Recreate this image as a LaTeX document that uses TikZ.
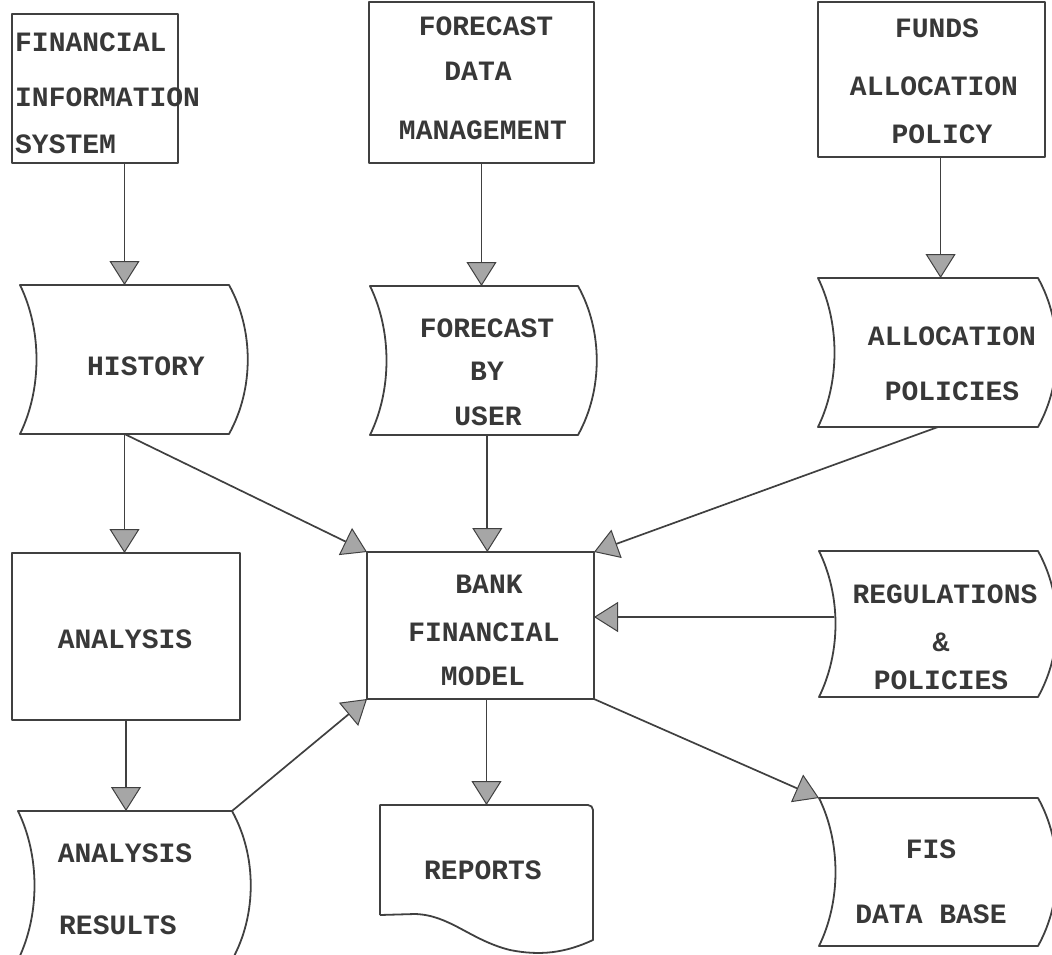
\documentclass[tikz,border=0pt]{standalone}
\usepackage{fontspec}
\newfontfamily\typewriter{Liberation Mono}
\usetikzlibrary{arrows.meta,calc}
\begin{document}
\begin{tikzpicture}[x=1pt,y=-1pt,
  outline/.style={draw=black!75, line width=1.8pt, line join=round},
  frame/.style={outline, inner sep=0pt, outer sep=0pt},
  slot/.style={inner sep=0pt, outer sep=0pt},
  caption/.style={font=\typewriter\bfseries\fontsize{28}{28}\selectfont,
    text=black!78, inner sep=0pt},
  flow/.style={draw=black!75, line width=1.7pt,
    -{Triangle[width=30pt,length=24pt,fill=black!35,line width=1pt]}}
]
\useasboundingbox (0,0) rectangle (1052,955);
\clip (0,0) rectangle (1052,955);

% ---- process boxes ----
\node[frame, minimum width=166pt, minimum height=149pt] (fis) at (95,88.5) {};
\node[frame, minimum width=225pt, minimum height=161pt] (fdm) at (481.5,82.5) {};
\node[frame, minimum width=227pt, minimum height=155pt] (fap) at (931.5,79.5) {};
\node[frame, minimum width=228pt, minimum height=167pt] (ana) at (126,636.5) {};
\node[frame, minimum width=227pt, minimum height=147pt] (bfm) at (480.5,625.5) {};

% ---- stored data (curved sides) ----
\node[slot, minimum width=209pt, minimum height=149pt] (hist) at (124.5,359.5) {};
\node[slot, minimum width=208pt, minimum height=149pt] (fbu) at (474,360.5) {};
\node[slot, minimum width=220pt, minimum height=149pt] (alp) at (928,352.5) {};
\node[slot, minimum width=219pt, minimum height=146pt] (reg) at (928.5,624) {};
\node[slot, minimum width=214pt, minimum height=149pt] (ares) at (125,885.5) {};
\node[slot, minimum width=219pt, minimum height=148pt] (fdb) at (928.5,872) {};
\foreach \n in {hist,fbu,alp,reg,ares,fdb}
  \draw[outline] (\n.north west) -- (\n.north east)
    .. controls +(25,45) and +(25,-45) .. (\n.south east)
    -- (\n.south west)
    .. controls +(22,-45) and +(22,45) .. (\n.north west) -- cycle;

% ---- document ----
\node[slot, minimum width=213pt, minimum height=140pt] (rep) at (486.5,875) {};
\draw[outline] ($(rep.south west)+(0,-30)$) -- (rep.north west)
  -- ($(rep.north east)+(-5,0)$) to[out=0,in=90] ($(rep.north east)+(0,5)$)
  -- ($(rep.south east)+(0,-5)$)
  .. controls ($(rep.south east)+(-28,8)$) and ($(rep.south east)+(-53,11)$)
  .. ($(rep.south east)+(-83,5)$)
  .. controls ($(rep.south east)+(-123,-5)$) and ($(rep.south east)+(-143,-30)$)
  .. ($(rep.south west)+(35,-31)$) -- ($(rep.south west)+(0,-30)$);

% ---- texts ----
\node[caption, anchor=west] (fis-a) at (15,42) {FINANCIAL};
\node[caption, anchor=west] (fis-b) at (15,97) {INFORMATION};
\node[caption, anchor=west] (fis-c) at (15,144) {SYSTEM};
\node[caption] (fdm-a) at (486,26) {FORECAST};
\node[caption] (fdm-b) at (478,71) {DATA};
\node[caption] (fdm-c) at (483,130) {MANAGEMENT};
\node[caption] (fap-a) at (937,28) {FUNDS};
\node[caption] (fap-b) at (934,86) {ALLOCATION};
\node[caption] (fap-c) at (942,134) {POLICY};
\node[caption] (hist-a) at (146,366) {HISTORY};
\node[caption] (fbu-a) at (487,328) {FORECAST};
\node[caption] (fbu-b) at (487,371) {BY};
\node[caption] (fbu-c) at (488,416) {USER};
\node[caption] (alp-a) at (952,336) {ALLOCATION};
\node[caption] (alp-b) at (952,391) {POLICIES};
\node[caption] (ana-a) at (125,639) {ANALYSIS};
\node[caption] (bfm-a) at (489,584) {BANK};
\node[caption] (bfm-b) at (484,632) {FINANCIAL};
\node[caption] (bfm-c) at (483,676) {MODEL};
\node[caption] (reg-a) at (945,594) {REGULATIONS};
\node[caption] (reg-b) at (941,642) {\&};
\node[caption] (reg-c) at (941,680) {POLICIES};
\node[caption] (ares-a) at (125,853) {ANALYSIS};
\node[caption] (ares-b) at (118,925) {RESULTS};
\node[caption] (rep-a) at (483,870) {REPORTS};
\node[caption] (fdb-a) at (931,849) {FIS};
\node[caption] (fdb-b) at (931,914) {DATA BASE};

% ---- connector end points ----
\coordinate (fap-out) at ($(fap.south west)!0.54!(fap.south east)$);
\coordinate (bfm-top) at ($(bfm.north west)!0.53!(bfm.north east)$);
\coordinate (alp-out) at ($(alp.south)+(10,0)$);
\coordinate (reg-out) at ($(reg.west)+(15,-7)$);

% ---- connectors ----
\draw[flow] (fis.south -| hist.north) -- (hist.north);
\draw[flow] (fdm.south) -- (fdm.south |- fbu.north);
\draw[flow] (fap-out) -- (fap-out |- alp.north);
\draw[flow] (hist.south) -- (hist.south |- ana.north);
\draw[flow] (hist.south) -- (bfm.north west);
\draw[flow] (bfm-top |- fbu.south) -- (bfm-top);
\draw[flow] (alp-out) -- (bfm.north east);
\draw[flow] (reg-out) -- (reg-out -| bfm.east);
\draw[flow] (ana.south) -- (ana.south |- ares.north);
\draw[flow] (ares.north east) -- (bfm.south west);
\draw[flow] (rep.north |- bfm.south) -- (rep.north);
\draw[flow] (bfm.south east) -- (fdb.north west);
\end{tikzpicture}
\end{document}
